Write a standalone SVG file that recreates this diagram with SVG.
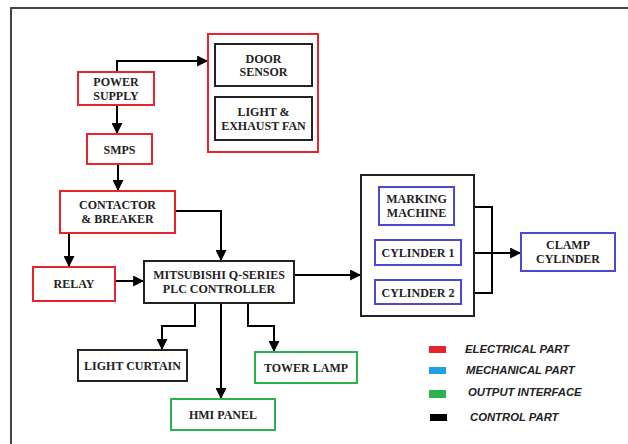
<svg xmlns="http://www.w3.org/2000/svg" width="628" height="444" viewBox="0 0 628 444">
<defs>
<marker id="ah" viewBox="0 0 10 10" refX="9" refY="5" markerWidth="11" markerHeight="11" markerUnits="userSpaceOnUse" orient="auto">
<path d="M0,0 L10,5 L0,10 Z" fill="#000"/>
</marker>
<style>
.r{fill:#fff;stroke:#e8232b;stroke-width:2}
.k{fill:#fff;stroke:#222;stroke-width:2}
.b{fill:#fff;stroke:#4a48d4;stroke-width:2}
.g{fill:#fff;stroke:#2cb24c;stroke-width:2}
.t{font-family:"Liberation Serif",serif;font-weight:bold;font-size:12px;fill:#222;text-anchor:middle}
.c{fill:none;stroke:#000;stroke-width:2}
.l{font-family:"Liberation Sans",sans-serif;font-weight:bold;font-style:italic;font-size:11.3px;fill:#222}
</style>
</defs>
<rect width="628" height="444" fill="#fff"/>
<path d="M11,444 V8 H628" fill="none" stroke="#444" stroke-width="2"/>

<g id="connectors">
<path class="c" d="M117,72 V61 H207" marker-end="url(#ah)"/>
<path class="c" d="M117,105 V133" marker-end="url(#ah)"/>
<path class="c" d="M118,164 V190" marker-end="url(#ah)"/>
<path class="c" d="M69,233 V266" marker-end="url(#ah)"/>
<path class="c" d="M175,211 H221 V260" marker-end="url(#ah)"/>
<path class="c" d="M115,281 H143" marker-end="url(#ah)"/>
<path class="c" d="M195,303 V326 H162 V349" marker-end="url(#ah)"/>
<path class="c" d="M221,303 V398" marker-end="url(#ah)"/>
<path class="c" d="M248,303 V326 H274 V351" marker-end="url(#ah)"/>
<path class="c" d="M294,275 H360" marker-end="url(#ah)"/>
<path class="c" d="M454,207 H492 V293 H461"/>
<path class="c" d="M461,253 H520" marker-end="url(#ah)"/>
</g>

<g id="power-supply"><rect class="r" x="78" y="72" width="76" height="33"/><text class="t" x="116" y="86">POWER</text><text class="t" x="116" y="100">SUPPLY</text></g>
<g id="smps"><rect class="r" x="87" y="134" width="65" height="30"/><text class="t" x="119.5" y="153.5">SMPS</text></g>
<g id="electrical-group"><rect class="r" x="208" y="34" width="110" height="118"/></g>
<g id="door-sensor"><rect class="k" x="215" y="44" width="97" height="42"/><text class="t" x="263.5" y="63">DOOR</text><text class="t" x="263.5" y="76">SENSOR</text></g>
<g id="light-exhaust-fan"><rect class="k" x="215" y="97" width="97" height="43"/><text class="t" x="263.5" y="116">LIGHT &amp;</text><text class="t" x="263.5" y="130">EXHAUST FAN</text></g>
<g id="contactor-breaker"><rect class="r" x="60" y="191" width="115" height="42"/><text class="t" x="117.5" y="209">CONTACTOR</text><text class="t" x="117.5" y="223">&amp; BREAKER</text></g>
<g id="relay"><rect class="r" x="33" y="267" width="82" height="34"/><text class="t" x="74" y="288">RELAY</text></g>
<g id="plc"><rect class="k" x="144" y="261" width="150" height="42"/><text class="t" x="219" y="279">MITSUBISHI Q-SERIES</text><text class="t" x="219" y="293">PLC CONTROLLER</text></g>
<g id="light-curtain"><rect class="k" x="78" y="350" width="109" height="31"/><text class="t" x="132.5" y="370">LIGHT CURTAIN</text></g>
<g id="hmi-panel"><rect class="g" x="171" y="399" width="104" height="31"/><text class="t" x="223" y="419">HMI PANEL</text></g>
<g id="tower-lamp"><rect class="g" x="255" y="352" width="102" height="31"/><text class="t" x="306" y="372">TOWER LAMP</text></g>
<g id="mechanical-group"><rect class="k" x="361" y="175" width="113" height="141"/></g>
<g id="marking-machine"><rect class="b" x="379" y="187" width="75" height="38"/><text class="t" x="416.5" y="203">MARKING</text><text class="t" x="416.5" y="217">MACHINE</text></g>
<g id="cylinder-1"><rect class="b" x="375" y="240" width="86" height="25"/><text class="t" x="418" y="257">CYLINDER 1</text></g>
<g id="cylinder-2"><rect class="b" x="375" y="280" width="86" height="24"/><text class="t" x="418" y="296.5">CYLINDER 2</text></g>
<g id="clamp-cylinder"><rect class="b" x="521" y="233" width="94" height="38"/><text class="t" x="568" y="249">CLAMP</text><text class="t" x="568" y="263">CYLINDER</text></g>

<g id="legend">
<rect x="429" y="346" width="17" height="7" fill="#e8232b"/>
<rect x="429" y="367" width="17" height="7" fill="#1ea0e6"/>
<rect x="429" y="390" width="17" height="8" fill="#2cb24c"/>
<rect x="430" y="414" width="17" height="7" fill="#000"/>
<text class="l" x="465" y="353">ELECTRICAL PART</text>
<text class="l" x="466" y="374">MECHANICAL PART</text>
<text class="l" x="468" y="396">OUTPUT INTERFACE</text>
<text class="l" x="470" y="421">CONTROL PART</text>
</g>
</svg>
